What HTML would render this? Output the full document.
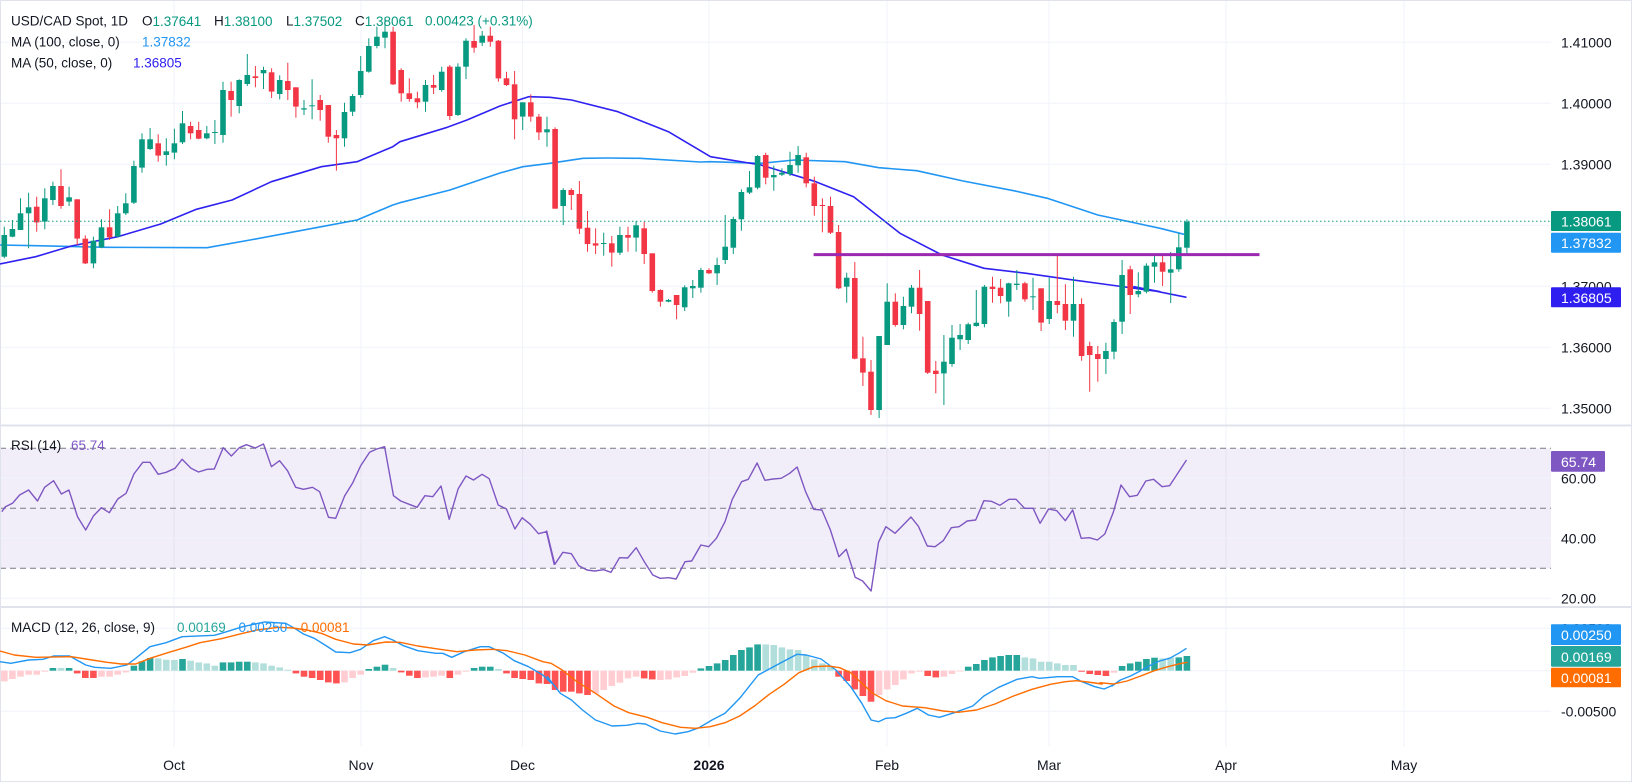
<!DOCTYPE html>
<html><head><meta charset="utf-8"><style>
html,body{margin:0;padding:0;background:#fff;}
svg{display:block;font-family:"Liberation Sans",Arial,sans-serif;}
</style></head><body>
<svg id="c" width="1632" height="783" viewBox="0 0 1632 783" xmlns="http://www.w3.org/2000/svg"></svg>
<script>
const S=document.getElementById('c');let h='';
const GREEN='#089981',RED='#f23645';
const X=n=>4.3+(n-1)*8.1;
const PY=p=>42.3+(1.41-p)*6100;
h+=`<rect x="0" y="0" width="1632" height="783" fill="#fff"/>`;
[174,361,522.5,709,887,1049,1226,1404].forEach(x=>{h+=`<line x1="${x}" y1="0" x2="${x}" y2="747" stroke="#f0f3fa" stroke-width="1"/>`;});
[1.41,1.40,1.39,1.38,1.37,1.36,1.35].forEach(p=>{h+=`<line x1="0" y1="${PY(p)}" x2="1551" y2="${PY(p)}" stroke="#f0f3fa"/>`;});
const RY=v=>508.3-(v-50)*3;
h+=`<rect x="0" y="${RY(70)}" width="1551" height="${RY(30)-RY(70)}" fill="#7e57c2" fill-opacity="0.1"/>`;
[60,40,20].forEach(v=>{h+=`<line x1="0" y1="${RY(v)}" x2="1551" y2="${RY(v)}" stroke="#f0f3fa"/>`;});
[70,50,30].forEach(v=>{h+=`<line x1="0" y1="${RY(v)}" x2="1551" y2="${RY(v)}" stroke="#787b86" stroke-dasharray="6,4"/>`;});
[628.3,670.7,711.3].forEach(y=>{h+=`<line x1="0" y1="${y}" x2="1551" y2="${y}" stroke="#f0f3fa"/>`;});
h+=`<line x1="0" y1="425.5" x2="1632" y2="425.5" stroke="#e0e3eb" stroke-width="2"/>`;
h+=`<line x1="0" y1="607" x2="1632" y2="607" stroke="#e0e3eb" stroke-width="2"/>`;
h+=`<rect x="0.5" y="0.5" width="1631" height="781" fill="none" stroke="#e0e3eb"/>`;
function pl(pts,col,w){h+=`<polyline points="${pts.map(p=>p[0].toFixed(1)+','+p[1].toFixed(1)).join(' ')}" fill="none" stroke="${col}" stroke-width="${w}" stroke-linejoin="round"/>`;}
const z1=a=>a.map(p=>[p[0]*0.3571,p[1]/3]);
const z2=a=>a.map(p=>[500+p[0]*0.421,p[1]/3+100]);
const z6=a=>a.map(p=>[1100+p[0]*0.3393,p[1]/3]);
let ma100=z1([[0,735],[100,737],[300,742],[580,743],[700,720],[900,680],[1000,660],[1100,615]])
.concat([[400,202.7],[450,190],[500,173],[523,166.7],[550,163.3],[583,158.3],[607,158],[640,158.3],[700,162]])
.concat(z2([[500,185],[620,190],[700,180],[820,185],[900,203],[990,212],[1100,243],[1220,272],[1300,295],[1420,345],[1568,385]]))
.concat(z6([[248,703]]));
pl(ma100,'#2196f3',1.6);
let ma50=z1([[0,792],[100,770],[200,738],[330,710],[450,672],[550,628],[650,600],[760,545],[900,500],[1000,485],[1100,440]])
.concat([[400,141.7],[446,127.7],[467,120],[500,106],[528.6,96.7],[550,97.3]])
.concat(z2([[170,0],[280,35],[400,95],[500,170],[620,195],[750,245],[840,290],[950,400],[1050,465],[1150,505],[1250,520],[1350,538],[1450,555],[1568,575]]))
.concat(z6([[100,860],[255,892]]));
pl(ma50,'#2f22f0',1.6);
const c1=[['g',705,770,680,775],['g',687,710,660,712],['g',640,690,595,690],['g',622,640,578,745],['r',620,667,590,695],['g',595,665,565,688],['g',558,600,545,615],['r',558,618,508,626],['g',592,605,560,618],['r',598,716,598,735],['r',716,790,706,792],['g',722,790,710,805],['g',682,742,658,745],['r',682,712,628,720],['g',640,710,618,712],['g',610,640,580,645],['g',498,608,482,612],['g',418,503,400,518],['g',418,447,384,450],['r',430,467,403,485],['g',454,465,415,497],['g',430,458,386,478],['g',370,427,333,432],['r',378,400,365,418],['r',390,416,365,418],['g',400,415,378,418],['g',396,399,360,432],['g',270,405,245,428],['r',273,300,245,350],['g',240,318,238,340],['g',225,252,162,258],['r',229,234,198,262],['g',210,220,200,267],['r',217,275,205,294],['g',240,282,226,298],['r',243,270,188,300],['r',262,320,262,353],['g',325,329,300,345],['g',316,319,238,358],['r',300,330,285,362],['r',315,410,315,428],['r',405,415,390,512],['g',336,415,308,440],['g',288,335,282,348],['g',213,285,168,293],['g',138,215,115,218],['g',110,138,80,145],['g',95,113,60,145],['r',95,253,80,255],['r',210,280,205,305],['r',280,297,235,305],['r',295,307,275,325],['g',255,305,240,335],['r',255,263,225,282],['g',215,270,200,275],['r',200,348,195,360],['g',200,345,190,348],['g',122,200,115,237],['r',123,143,75,158],['g',107,128,93,138],['r',107,125,80,140],['r',122,235,120,245],['r',235,255,215,258],['r',253,358,213,418],['g',307,350,307,390],['r',307,350,283,365],['r',350,397,342,420],['g',388,397,350,440]];
const c2=[['r',87,326,82,326],['g',270,318,265,375],['r',270,285,265,330],['r',282,386,243,402],['r',383,432,333,455],['r',430,437,385,462],['g',429,432,398,467],['r',430,458,408,500],['g',405,458,380,465],['r',405,413,380,455],['g',376,413,363,455],['r',385,462,365,492],['r',460,573,460,578],['r',570,605,568,620],['g',600,605,597,607],['r',585,615,585,658],['g',562,622,556,633],['g',558,565,540,594],['g',510,563,503,578],['r',510,520,505,522],['g',495,520,473,555],['g',440,480,345,492],['g',357,443,350,462],['g',276,358,268,392],['g',262,278,213,282],['g',168,263,165,268],['r',165,233,158,253],['g',225,232,197,272],['g',218,224,205,228],['g',195,222,155,228],['g',165,196,138,218],['r',172,250,158,262],['r',250,318,230,347],['r',315,318,295,397],['r',318,398,290,402],['r',396,565,375,567],['g',533,560,518,608],['r',534,776,486,778],['r',775,818,710,858],['r',815,930,780,945],['g',708,930,708,955],['g',605,735,550,735],['r',605,675,580,680],['g',618,675,590,688],['g',563,620,555,640],['r',563,642,510,692],['r',603,818,603,822],['r',812,822,783,880],['g',785,820,705,915],['g',713,792,675,800],['g',705,718,672,750],['g',673,720,668,732],['g',668,678,570,680],['g',560,672,555,682],['r',560,567,530,608],['r',563,588,537,610],['g',550,605,548,650],['g',551,555,510,570],['r',550,598,545,605],['g',589,592,533,630],['r',565,668,565,693],['g',603,657,533,672],['r',603,615,463,640],['r',612,662,553,690],['g',612,662,530,710],['r',612,768,595,782],['r',738,765,725,875],['r',762,777,738,845],['g',753,777,728,822],['g',666,755,658,778],['g',525,665,480,702],['r',508,585,497,642],['g',573,583,517,592],['g',497,575,490,580]];
const c6=[['g',262.3,266.7,256,282.7],['r',262.3,271.7,256,286],['g',269.3,272.7,252,303],['g',247.3,269.3,233,271.7],['g',221.7,247.7,219.3,254.3]];
let C=[];
c1.slice(0,68).forEach(c=>C.push([c[0],c[1]/3,c[2]/3,c[3]/3,c[4]/3]));
c2.forEach(c=>C.push([c[0],c[1]/3+100,c[2]/3+100,c[3]/3+100,Math.min(c[4]/3+100,418)]));
c6.forEach(c=>C.push(c));
C.forEach((c,i)=>{const x=X(i+1),col=c[0]=='g'?GREEN:RED;
 h+=`<line x1="${x.toFixed(1)}" y1="${c[3].toFixed(1)}" x2="${x.toFixed(1)}" y2="${c[4].toFixed(1)}" stroke="${col}" stroke-width="1"/>`;
 const bh=Math.max(1,c[2]-c[1]);
 h+=`<rect x="${(x-2.8).toFixed(1)}" y="${c[1].toFixed(1)}" width="5.6" height="${bh.toFixed(1)}" fill="${col}"/>`;});
h+=`<line x1="813.6" y1="254.6" x2="1259.5" y2="254.6" stroke="#9c27b0" stroke-width="3"/>`;
h+=`<line x1="0" y1="221.2" x2="1551" y2="221.2" stroke="${GREEN}" stroke-width="1" stroke-dasharray="1.5,2.5"/>`;
const r4=a=>a.map(p=>[p[0]*0.3571,p[1]/3+400]);
const r5=a=>a.map(p=>[540+p[0]*0.3699,p[1]/3+400]);
const r3=a=>a.map(p=>[1100+p[0]*0.3393,p[1]/3+400]);
let rsi=r4([[5,335],[15,320],[35,310],[55,285],[80,270],[105,303],[125,262],[150,242],[172,282],[193,270],[217,350],[240,390],[262,347],[284,323],[306,338],[330,297],[353,280],[375,222],[400,187],[420,187],[443,223],[465,217],[490,205],[510,178],[535,205],[556,216],[580,208],[600,207],[625,143],[648,168],[670,143],[690,134],[715,144],[738,132],[760,200],[783,182],[805,212],[828,262],[850,268],[875,262],[895,275],[920,352],[940,355],[965,288],[988,248],[1010,197],[1035,157],[1055,147],[1077,140],[1102,287],[1122,303],[1146,313],[1168,322],[1190,287],[1212,290],[1235,258],[1258,358],[1283,266],[1305,228],[1326,240],[1350,223],[1370,236],[1395,315],[1418,327],[1442,387],[1462,353],[1485,373],[1508,401],[1530,395],[1552,493]])
.concat(r5([[18,393],[40,493],[62,457],[85,461],[105,497],[127,510],[148,513],[172,509],[192,517],[215,473],[237,474],[260,443],[282,485],[305,525],[325,535],[348,533],[368,537],[392,485],[410,483],[435,435],[456,440],[477,415],[500,365],[520,298],[545,245],[563,238],[587,189],[608,241],[630,237],[652,235],[675,220],[695,201],[718,275],[740,328],[762,330],[785,390],[808,470],[828,448],[852,532],[872,543],[895,573],[915,427],[935,380],[960,400],[982,375],[1003,351],[1023,379],[1047,438],[1068,440],[1090,422],[1112,383],[1133,380],[1155,363],[1178,360],[1200,302],[1220,304],[1243,316],[1268,298],[1287,298],[1310,325],[1333,325],[1352,370],[1375,327],[1397,332],[1420,362],[1440,330],[1463,415],[1485,413],[1507,420],[1527,402],[1550,337]]))
.concat(r3([[62,255],[87,290],[110,286],[135,243],[158,238],[183,260],[205,257],[255,180]]));
pl(rsi,'#7e57c2',1.4);
const HC={g:'#26a69a',lg:'#b2dfdb',r:'#ff5252',lr:'#ffcdd2'};
const B=670.7;
function bar(n,v,c){const x=X(n);const y=v>=0?B-v:B;h+=`<rect x="${(x-3.3).toFixed(1)}" y="${y.toFixed(1)}" width="6.6" height="${Math.max(0.8,Math.abs(v)).toFixed(1)}" fill="${HC[c]}"/>`;}
const h4=[[-32,'lr'],[-25,'lr'],[-18,'lr'],[-12,'lr'],[-12,'lr'],[-3,'lr'],[8,'g'],[8,'lg'],[8,'g'],[-8,'r'],[-22,'r'],[-22,'r'],[-18,'lr'],[-18,'lr'],[-12,'lr'],[-5,'lr'],[15,'g'],[28,'g'],[38,'g'],[37,'lg'],[33,'lg'],[32,'lg'],[35,'g'],[30,'lg'],[25,'lg'],[22,'lg'],[15,'lg'],[25,'g'],[25,'g'],[27,'g'],[27,'g'],[25,'lg'],[22,'lg'],[15,'lg'],[10,'lg'],[3,'lg'],[-8,'r'],[-18,'r'],[-22,'r'],[-28,'r'],[-35,'r'],[-38,'r'],[-35,'lr'],[-22,'lr'],[-12,'lr'],[5,'g'],[12,'g'],[18,'g'],[8,'lg'],[-5,'r'],[-15,'r'],[-22,'r'],[-20,'lr'],[-18,'lr'],[-15,'lr'],[-22,'r'],[-12,'lr'],[-3,'lr'],[8,'g'],[12,'g'],[12,'g'],[5,'lg'],[-8,'r'],[-22,'r'],[-25,'r'],[-28,'r'],[-38,'r'],[-40,'r']];
h4.forEach((b,i)=>bar(i+1,b[0]/3,b[1]));
const h5=[[41,870,'r'],[63,875,'r'],[85,875,'r'],[107,880,'r'],[129,885,'r'],[151,880,'lr'],[172,870,'lr'],[192,858,'lr'],[215,848,'lr'],[237,835,'lr'],[260,830,'lr'],[283,835,'r'],[305,838,'r'],[327,840,'lr'],[348,838,'lr'],[370,832,'lr'],[392,828,'lr'],[412,818,'lr'],[435,805,'g'],[457,798,'g'],[478,790,'g'],[500,780,'g'],[523,765,'g'],[545,750,'g'],[567,742,'g'],[588,733,'g'],[610,733,'lg'],[632,735,'lg'],[654,742,'lg'],[675,748,'lg'],[697,750,'lg'],[720,765,'lg'],[742,778,'lg'],[763,790,'lg'],[786,800,'lg'],[808,830,'r'],[830,843,'r'],[852,868,'r'],[873,888,'r'],[895,905,'r'],[917,885,'lr'],[940,868,'lr'],[962,855,'lr'],[983,838,'lr'],[1005,820,'lr'],[1027,815,'lr'],[1050,828,'r'],[1070,832,'r'],[1092,830,'lr'],[1112,822,'lr'],[1135,812,'lr'],[1157,800,'g'],[1180,792,'g'],[1200,780,'g'],[1223,772,'g'],[1245,768,'g'],[1268,765,'g'],[1290,765,'g'],[1310,772,'lg'],[1332,775,'lg'],[1355,785,'lg'],[1378,785,'lg'],[1398,790,'lg'],[1420,795,'lg'],[1443,795,'lg'],[1465,815,'r'],[1487,822,'r'],[1508,825,'r']];
h5.forEach((b,i)=>bar(69+i,(812-b[1])/3,b[2]));
const h3=[[828,'r'],[818,'lr'],[798,'g'],[790,'g'],[785,'g'],[777,'g'],[773,'g'],[775,'lg'],[772,'lg'],[772,'g'],[768,'g']];
h3.forEach((b,i)=>bar(137+i,(812-b[0])/3,b[1]));
let mb=r4([[0,785],[30,790],[80,780],[120,778],[150,768],[195,768],[240,795],[265,802],[310,805],[355,795],[380,775],[420,740],[465,728],[510,710],[600,706],[620,700],[680,680],[740,666],[800,670],[825,685],[850,702],[880,715],[910,735],[940,756],[980,758],[1010,748],[1045,722],[1077,710],[1100,720],[1130,737],[1170,752],[1220,760],[1240,760],[1265,772],[1300,755],[1345,740],[1370,740],[1410,760],[1440,782],[1480,800],[1520,825],[1545,850]])
.concat(r5([[20,830],[55,880],[85,900],[115,930],[150,960],[195,978],[235,976],[265,970],[285,972],[325,993],[365,1002],[400,995],[430,983],[465,960],[500,940],[540,895],[590,825],[640,795],[695,763],[720,765],[760,777],[800,810],[840,860],[870,910],[895,960],[915,965],[935,955],[960,953],[990,940],[1020,925],[1050,945],[1080,952],[1120,938],[1170,918],[1200,888],[1240,862],[1290,838],[1330,830],[1350,835],[1400,830],[1440,830],[1465,845],[1500,860],[1525,867],[1550,855]]))
.concat(r3([[35,858],[60,840],[90,828],[120,812],[150,795],[175,783],[205,775],[235,758],[255,745]]));
pl(mb,'#2196f3',1.4);
let mo=r4([[0,753],[40,765],[100,772],[200,770],[240,777],[300,787],[340,792],[380,792],[420,775],[470,758],[520,742],[560,728],[620,716],[680,700],[720,690],[780,682],[820,684],[860,690],[900,700],[940,718],[990,732],[1030,735],[1080,726],[1120,727],[1170,738],[1220,746],[1280,755],[1330,750],[1380,748],[1420,752],[1470,765],[1520,785]])
.concat(r5([[30,790],[60,810],[100,845],[150,880],[200,918],[240,938],[290,952],[330,968],[380,982],[420,985],[460,980],[500,968],[540,948],[580,918],[620,883],[660,853],[700,818],[740,800],[780,798],[810,803],[840,818],[870,850],[900,880],[935,902],[980,918],[1040,923],[1090,933],[1130,937],[1180,930],[1230,912],[1280,888],[1330,868],[1380,853],[1420,845],[1450,842],[1480,846],[1520,852]]))
.concat(r3([[0,848],[40,852],[80,843],[120,828],[160,812],[200,800],[240,790],[258,787]]));
pl(mo,'#ff6d00',1.4);
function t(x,y,s,col,sz,extra){h+=`<text x="${x}" y="${y}" font-size="${sz||14}" fill="${col||'#131722'}" dominant-baseline="central" ${extra||''}>${s}</text>`;}
[[1.41,'1.41000'],[1.40,'1.40000'],[1.39,'1.39000'],[1.37,'1.37000'],[1.36,'1.36000'],[1.35,'1.35000']].forEach(a=>t(1561,PY(a[0]),a[1]));
t(1561,RY(60),'60.00');t(1561,RY(40),'40.00');t(1561,RY(20),'20.00');
t(1561,628.3,'0.00500');t(1561,711.3,'-0.00500');
function box(y1,y2,col,s,w){h+=`<rect x="1551" y="${y1}" width="${w||70}" height="${y2-y1}" fill="${col}" rx="1"/>`;t(1561,(y1+y2)/2+0.5,s,'#fff');}
box(211,231,GREEN,'1.38061');
box(232.7,252.7,'#2196f3','1.37832');
box(287.3,307.3,'#2e1ff0','1.36805');
box(451,471.7,'#7e57c2','65.74',54);
box(624.3,645,'#2196f3','0.00250');
box(646,666.7,'#26a69a','0.00169');
box(667.7,687.3,'#ff6d00','0.00081');
[[174,'Oct'],[361,'Nov'],[522.5,'Dec'],[887,'Feb'],[1049,'Mar'],[1226,'Apr'],[1404,'May']].forEach(a=>t(a[0],765,a[1],'#131722',14,'text-anchor="middle"'));
t(709,765,'2026','#131722',14,'text-anchor="middle" font-weight="bold"');
const L=13.5;
t(11,21,'USD/CAD Spot, 1D','#131722',L);
t(142,21,'O<tspan fill="'+GREEN+'">1.37641</tspan>','#131722',L);
t(214,21,'H<tspan fill="'+GREEN+'">1.38100</tspan>','#131722',L);
t(286,21,'L<tspan fill="'+GREEN+'">1.37502</tspan>','#131722',L);
t(355,21,'C<tspan fill="'+GREEN+'">1.38061</tspan>','#131722',L);
t(425,21,'0.00423 (+0.31%)',GREEN,L);
t(11,42,'MA (100, close, 0)','#131722',L);t(142,42,'1.37832','#2196f3',L);
t(11,63,'MA (50, close, 0)','#131722',L);t(133,63,'1.36805','#2e1ff0',L);
t(11,445.7,'RSI (14)','#131722',L);t(71,445.7,'65.74','#7e57c2',L);
t(11,627.7,'MACD (12, 26, close, 9)','#131722',L);
t(177,627.7,'0.00169','#26a69a',L);t(238.5,627.7,'0.00250','#2196f3',L);t(300.7,627.7,'0.00081','#ff6d00',L);
S.innerHTML=h;
</script>
</body></html>
